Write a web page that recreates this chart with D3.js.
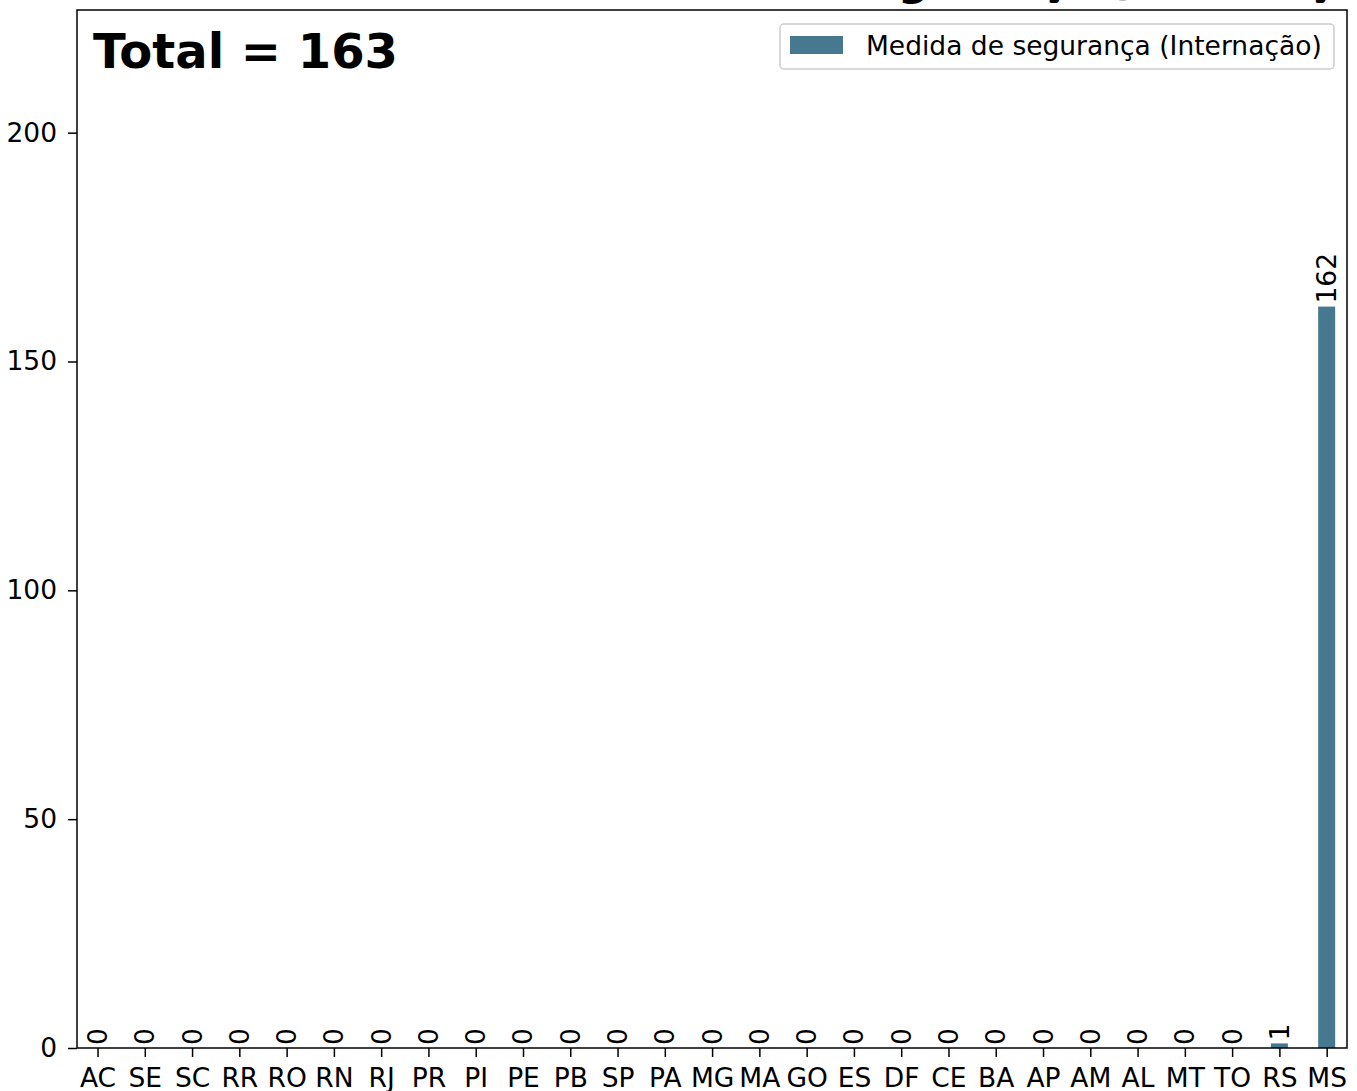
<!DOCTYPE html>
<html>
<head>
<meta charset="utf-8">
<script src="https://cdn.jsdelivr.net/npm/d3@7/dist/d3.min.js"></script>
<style>
  html, body { margin: 0; padding: 0; background: #ffffff; }
  svg { display: block; }
  text { font-family: "DejaVu Sans", sans-serif; }
</style>
</head>
<body>
<script>
// ---- data ----
const categories = ["AC","SE","SC","RR","RO","RN","RJ","PR","PI","PE","PB","SP","PA","MG","MA","GO","ES","DF","CE","BA","AP","AM","AL","MT","TO","RS","MS"];
const values = [0,0,0,0,0,0,0,0,0,0,0,0,0,0,0,0,0,0,0,0,0,0,0,0,0,1,162];
const seriesName = "Medida de segurança (Internação)";
const titleText = "Medida de segurança (Internação)";
const totalLabel = "Total = 163";
const yTicks = [0, 50, 100, 150, 200];

// ---- layout ----
const W = 1357, H = 1091;
const mLeft = 77, mRight = 1347, mTop = 10, mBottom = 1048;
const barColor = "#46788f";
const fs = 26.5;

const svg = d3.select("body").append("svg").attr("width", W).attr("height", H);

const x = d3.scaleLinear().domain([-0.434, categories.length - 1 + 0.43]).range([mLeft, mRight]);
const y = d3.scaleLinear().domain([0, d3.max(values) * 1.4]).range([mBottom, mTop]);
const barW = 0.36;

// title (mostly clipped above the figure, as in the reference)
svg.append("text")
  .attr("x", 576).attr("y", -5)
  .attr("font-size", 43).attr("font-weight", "bold")
  .attr("fill", "#000")
  .text(titleText);

// bars
svg.append("g").selectAll("rect").data(values).join("rect")
  .attr("x", (d, i) => x(i - barW / 2))
  .attr("width", (d, i) => x(barW) - x(0))
  .attr("y", d => y(d))
  .attr("height", d => y(0) - y(d))
  .attr("fill", barColor);

// bar labels
svg.append("g").selectAll("text").data(values).join("text")
  .attr("transform", (d, i) => `translate(${x(i)},${y(d) - 3}) rotate(-90)`)
  .attr("text-anchor", "start")
  .attr("dominant-baseline", "central")
  .attr("font-size", fs)
  .attr("fill", "#000")
  .text(d => d);

// axes
const yAxis = d3.axisLeft(y).tickValues(yTicks).tickSize(9).tickPadding(11).tickFormat(d3.format("d"));
const gy = svg.append("g").attr("transform", `translate(${mLeft},0)`).call(yAxis);
gy.select(".domain").remove();
gy.selectAll("line").attr("stroke", "#000").attr("stroke-width", 1.5);
gy.selectAll("text").attr("font-size", fs).attr("fill", "#000").attr("font-family", "DejaVu Sans");

const xAxis = d3.axisBottom(x).tickValues(d3.range(categories.length)).tickSize(9).tickPadding(11)
  .tickFormat(i => categories[i]);
const gx = svg.append("g").attr("transform", `translate(0,${mBottom})`).call(xAxis);
gx.select(".domain").remove();
gx.selectAll("line").attr("stroke", "#000").attr("stroke-width", 1.5);
gx.selectAll("text").attr("font-size", fs).attr("fill", "#000").attr("font-family", "DejaVu Sans");

// frame
svg.append("rect")
  .attr("x", mLeft).attr("y", mTop)
  .attr("width", mRight - mLeft).attr("height", mBottom - mTop)
  .attr("fill", "none").attr("stroke", "#000").attr("stroke-width", 1.5);

// total text
svg.append("text")
  .attr("x", 93).attr("y", 68)
  .attr("font-size", 48).attr("font-weight", "bold")
  .attr("fill", "#000")
  .text(totalLabel);

// legend
const lg = svg.append("g");
lg.append("rect")
  .attr("x", 780).attr("y", 24).attr("width", 554).attr("height", 45)
  .attr("rx", 4).attr("ry", 4)
  .attr("fill", "#fff").attr("fill-opacity", 0.8)
  .attr("stroke", "#cccccc").attr("stroke-width", 1.5);
lg.append("rect")
  .attr("x", 790).attr("y", 36).attr("width", 53).attr("height", 18)
  .attr("fill", barColor);
lg.append("text")
  .attr("x", 866).attr("y", 55)
  .attr("font-size", fs).attr("fill", "#000")
  .text(seriesName);
</script>
</body>
</html>
